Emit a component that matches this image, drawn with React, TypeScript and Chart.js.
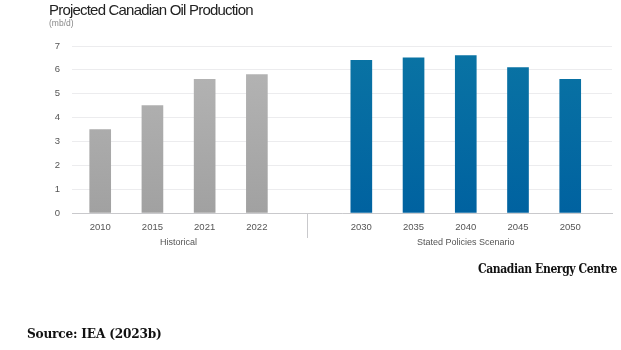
import React, { useEffect, useRef } from "react";
import { Chart, registerables } from "chart.js";

Chart.register(...registerables);

const categories = ["2010", "2015", "2021", "2022", "", "2030", "2035", "2040", "2045", "2050"];
const historicalIndex = [0, 1, 2, 3];
const historicalValues = [3.5, 4.5, 5.6, 5.8];
const scenarioIndex = [5, 6, 7, 8, 9];
const scenarioValues = [6.4, 6.5, 6.6, 6.1, 5.6];
const groupLabels = ["Historical", "Stated Policies Scenario"];
const yTicks = [0, 1, 2, 3, 4, 5, 6, 7];

function gradient(ctx: any, top: string, bottom: string) {
  const chart = ctx.chart;
  const area = chart.chartArea;
  if (!area) return bottom;
  const g = chart.ctx.createLinearGradient(0, area.top, 0, area.bottom);
  g.addColorStop(0, top);
  g.addColorStop(1, bottom);
  return g;
}

const groupPlugin = {
  id: "groups",
  afterDraw(chart: any) {
    const x = chart.scales.x;
    const area = chart.chartArea;
    const c = chart.ctx;
    c.save();
    const lastHist = historicalIndex[historicalIndex.length - 1];
    const firstScen = scenarioIndex[0];
    const dx = Math.round(x.getPixelForValue((lastHist + firstScen) / 2)) - 1.5;
    c.strokeStyle = "#c9c9cc";
    c.lineWidth = 1;
    c.beginPath();
    c.moveTo(dx, area.bottom);
    c.lineTo(dx, area.bottom + 25);
    c.stroke();
    c.fillStyle = "#555";
    c.font = "9px 'Liberation Sans', Arial, sans-serif";
    c.textAlign = "center";
    c.textBaseline = "middle";
    const groups = [historicalIndex, scenarioIndex];
    groups.forEach((g, i) => {
      const mid = (g[0] + g[g.length - 1]) / 2;
      c.fillText(groupLabels[i], x.getPixelForValue(mid), area.bottom + 30);
    });
    c.restore();
  },
};

export default function App() {
  const ref = useRef<HTMLCanvasElement>(null);
  useEffect(() => {
    if (!ref.current) return;
    const chart = new Chart(ref.current, {
      type: "bar",
      data: {
        datasets: [
          {
            data: historicalIndex.map((x, i) => ({ x, y: historicalValues[i] })),
            backgroundColor: (ctx: any) => gradient(ctx, "#b6b6b6", "#a1a1a1"),
            barThickness: 21,
            grouped: false,
          } as any,
          {
            data: scenarioIndex.map((x, i) => ({ x, y: scenarioValues[i] })),
            backgroundColor: (ctx: any) => gradient(ctx, "#0a74a4", "#0062a0"),
            barThickness: 21,
            grouped: false,
          } as any,
        ],
      },
      options: {
        animation: false,
        responsive: false,
        layout: { padding: { left: 0, right: 9, top: 46, bottom: 0 } },
        plugins: { legend: { display: false }, tooltip: { enabled: false } },
        scales: {
          x: {
            type: "linear",
            offset: false,
            min: -0.54,
            max: 9.8,
            afterBuildTicks: (scale: any) => {
              scale.ticks = categories.map((_, i) => ({ value: i }));
            },
            afterFit: (scale: any) => {
              scale.height = 137;
            },
            grid: { display: false, drawTicks: false },
            border: { display: true, color: "#c9c9cc", width: 1 },
            ticks: {
              autoSkip: false,
              maxRotation: 0,
              padding: 9,
              color: "#555",
              font: { family: "'Liberation Sans', Arial, sans-serif", size: 9.5 },
              callback: (v: any) => categories[v] ?? "",
            },
          },
          y: {
            min: 0,
            max: 7,
            afterBuildTicks: (scale: any) => {
              scale.ticks = yTicks.map((v) => ({ value: v }));
            },
            afterFit: (scale: any) => {
              scale.width = 72;
            },
            grid: { color: "#ececee", drawTicks: false },
            border: { display: false },
            ticks: {
              padding: 12,
              color: "#555",
              font: { family: "'Liberation Sans', Arial, sans-serif", size: 9.5 },
            },
          },
        },
      },
      plugins: [groupPlugin],
    } as any);
    return () => chart.destroy();
  }, []);

  return (
    <div style={{ position: "absolute", left: 0, top: 0, width: 621, height: 350, background: "#fff", overflow: "hidden" }}>
      <canvas ref={ref} width={621} height={350} style={{ position: "absolute", left: 0, top: 0 }} />
      <div
        style={{
          position: "absolute",
          left: 49,
          top: 1,
          fontFamily: "'Liberation Sans', Arial, sans-serif",
          fontSize: 15,
          letterSpacing: -0.8,
          color: "#222",
          whiteSpace: "nowrap",
        }}
      >
        Projected Canadian Oil Production
      </div>
      <div
        style={{
          position: "absolute",
          left: 49,
          top: 18,
          fontFamily: "'Liberation Sans', Arial, sans-serif",
          fontSize: 8.5,
          color: "#888",
        }}
      >
        (mb/d)
      </div>
      <div
        style={{
          position: "absolute",
          right: 4,
          top: 262,
          fontFamily: "'DejaVu Serif Condensed', 'DejaVu Serif', serif",
          fontWeight: "bold",
          fontSize: 12,
          letterSpacing: -0.4,
          color: "#111",
          whiteSpace: "nowrap",
        }}
      >
        Canadian Energy Centre
      </div>
      <div
        style={{
          position: "absolute",
          left: 27,
          top: 325,
          fontFamily: "'DejaVu Serif Condensed', 'DejaVu Serif', serif",
          fontWeight: "bold",
          fontSize: 13.5,
          letterSpacing: -0.2,
          color: "#111",
          whiteSpace: "nowrap",
        }}
      >
        Source: IEA (2023b)
      </div>
    </div>
  );
}
